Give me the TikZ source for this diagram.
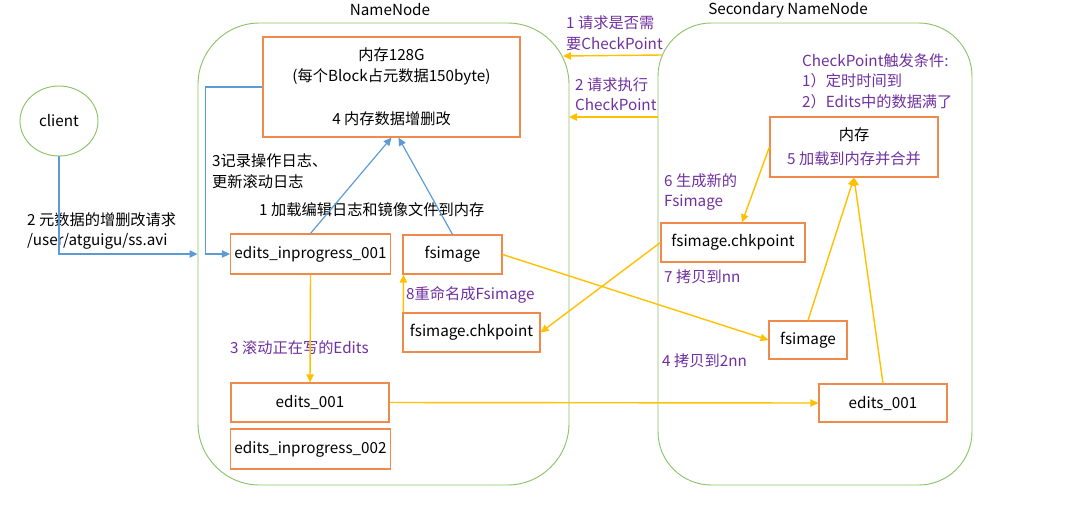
\documentclass[tikz,border=0pt]{standalone}
\usepackage{fontspec}
\setmainfont{Noto Sans CJK SC}
\usetikzlibrary{shapes.geometric, arrows.meta, positioning}
\definecolor{nodegreen}{HTML}{8CC36A}
\definecolor{boxorange}{HTML}{F08A4B}
\definecolor{lineblue}{HTML}{5B9BD5}
\definecolor{lineyellow}{HTML}{FFC000}
\definecolor{notepurple}{HTML}{7030A0}
\begin{document}
\begin{tikzpicture}[
    x=0.03cm, y=-0.03cm,
    font=\fontsize{13}{17.5}\selectfont,
    group/.style={rectangle, draw=nodegreen, line width=0.8pt, minimum height=13.86cm},
    box/.style={rectangle, draw=boxorange, line width=1pt, fill=white,
                minimum height=1.17cm, align=center},
    note/.style={text=notepurple, align=left, anchor=west, inner sep=0pt},
    caption/.style={align=left, anchor=west, inner sep=0pt},
    load/.style={-{Triangle[length=2.4mm, width=2.2mm]}, draw=lineblue, line width=1pt},
    copy/.style={-{Triangle[length=2.4mm, width=2.2mm]}, draw=lineyellow, line width=1.2pt}
]
\useasboundingbox (0,0) rectangle (1065,530);

\node[group, minimum width=11.13cm, rounded corners=1.85cm] (nn) at (383.5,254) {};
\node (nnlabel) at (390,10) {NameNode};
\node[group, minimum width=9.42cm, rounded corners=1.6cm] (snn) at (815,254) {};
\node (snnlabel) at (788,10) {Secondary NameNode};
\node[ellipse, draw=nodegreen, line width=0.8pt, minimum width=2.34cm, minimum height=2.1cm] (client) at (59,121) {client};

\node[box, minimum width=7.71cm, minimum height=3cm] (mem) at (391.5,87)
    {内存128G\\(每个Block占元数据150byte)\\[20pt]4 内存数据增删改};
\node[box, minimum width=4.77cm, minimum height=1.2cm] (inprog1) at (310.5,254) {edits\_inprogress\_001};
\node[box, minimum width=2.97cm] (fsimg) at (452.5,254.5) {fsimage};
\node[box, minimum width=4.11cm] (chkpt) at (471.5,332.5) {fsimage.chkpoint};
\node[box, minimum width=4.74cm] (edits1) at (310,402.5) {edits\_001};
\node[box, minimum width=4.71cm, minimum height=1.2cm] (inprog2) at (310.5,449) {edits\_inprogress\_002};

\node[box, minimum width=5.04cm, minimum height=1.8cm] (smem) at (854,147)
    {内存\\[3pt]\textcolor{notepurple}{5 加载到内存并合并}};
\node[box, minimum width=4.32cm] (schkpt) at (733,242.5) {fsimage.chkpoint};
\node[box, minimum width=2.34cm, minimum height=1.14cm] (sfsimg) at (808,340) {fsimage};
\node[box, minimum width=3.84cm, minimum height=1.14cm] (sedits) at (883,403) {edits\_001};

\node[caption] (reqlabel) at (27,231) {2 元数据的增删改请求\\/user/atguigu/ss.avi};
\node[caption] (loglabel) at (212,171) {3记录操作日志、\\更新滚动日志};
\node[caption] (loadlabel) at (259,210) {1 加载编辑日志和镜像文件到内存};
\node[note] (rolllabel) at (230,348) {3 滚动正在写的Edits};
\node[note] (renamelabel) at (406,295) {8重命名成Fsimage};
\node[note] (asklabel) at (566,33) {1 请求是否需\\要CheckPoint};
\node[note] (runlabel) at (575,94) {2 请求执行\\CheckPoint};
\node[note] (condlabel) at (802,81) {CheckPoint触发条件:\\1）定时时间到\\2）Edits中的数据满了};
\node[note] (newlabel) at (664,192) {6 生成新的\\Fsimage};
\node[note] (tonnlabel) at (664,277) {7 拷贝到nn};
\node[note] (to2nnlabel) at (662,361) {4 拷贝到2nn};

\coordinate (askfrom) at (662,55);
\coordinate (askto) at (563,56);
\coordinate (runfrom) at (658,117);
\coordinate (runto) at (569,117);

\draw[load] (client.south) |- (nn.west);
\draw[load] (mem.west) -- ++(-57,0) |- (inprog1.west);
\draw[load] (inprog1.north) -- (mem.south);
\draw[load] (fsimg.north) -- ([xshift=0.21cm]mem.south);

\draw[copy] (askfrom) -- (askto);
\draw[copy] (runfrom) -- (runto);
\draw[copy] (inprog1.south) -- (edits1.north);
\draw[copy] ([xshift=0.03cm]chkpt.north west) -- ([xshift=0.03cm]fsimg.south west);
\draw[copy] (fsimg.east) -- (sfsimg.west);
\draw[copy] (schkpt.west) -- (chkpt.east);
\draw[copy] (edits1.east) -- (sedits.west);
\draw[copy] (smem.west) -- ([xshift=0.27cm]schkpt.north);
\draw[copy] (sfsimg.north) -- (smem.south);
\draw[copy] (sedits.north) -- (smem.south);
\end{tikzpicture}
\end{document}
